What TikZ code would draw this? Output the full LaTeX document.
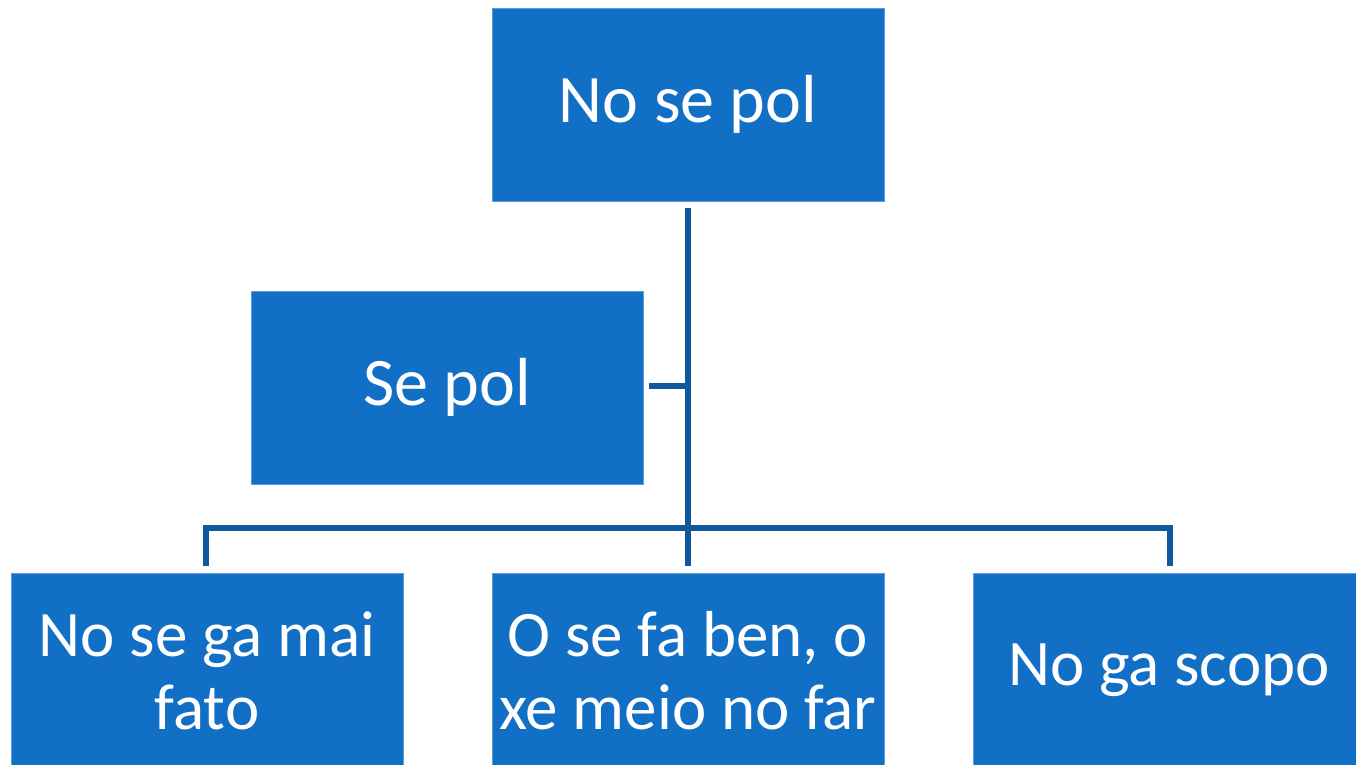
\documentclass[tikz,border=0pt]{standalone}
\usepackage{fontspec}
\setmainfont{Carlito}
\definecolor{boxfill}{RGB}{17,112,198}
\definecolor{boxedge}{RGB}{95,155,215}
\definecolor{linkcol}{RGB}{16,88,158}
\begin{document}
\begin{tikzpicture}[x=1pt,y=-1pt,
  box/.style={draw=boxedge,line width=0.8pt,fill=boxfill,text=white,inner sep=0pt,
    minimum width=392pt,minimum height=193pt,align=center},
  bigtxt/.style={font=\fontsize{68}{80}\selectfont},
  smalltxt/.style={font=\fontsize{65}{73}\selectfont},
  link/.style={draw=linkcol,line width=6pt,line join=miter}]
\useasboundingbox (0,0) rectangle (1356,764);
\clip (0,0) rectangle (1356,764);
\node[box,bigtxt] (top) at (688,104.5) {No se pol};
\node[box,bigtxt] (sepol) at (447,387.5) {Se pol};
\node[box,smalltxt,minimum height=195pt] (b1) at (207,670.5) {No se ga mai\\fato};
\node[box,smalltxt,minimum height=195pt] (b2) at (688,670.5) {O se fa ben, o\\xe meio no far};
\node[box,smalltxt,minimum height=195pt] (b3) at (1169,670.5) {No ga scopo};
\coordinate (ts) at (688,208);
\coordinate (mid) at (688,528);
\coordinate (sj) at (688,386);
\coordinate (se) at (649,386);
\coordinate (l1) at (206,528);
\coordinate (l1d) at (206,566);
\coordinate (l2d) at (688,566);
\coordinate (l3) at (1170,528);
\coordinate (l3d) at (1170,566);
\draw[link] (ts) -- (l2d);
\draw[link] (se) -- (sj);
\draw[link] (l1d) -- (l1) -- (l3) -- (l3d);
\end{tikzpicture}
\end{document}
